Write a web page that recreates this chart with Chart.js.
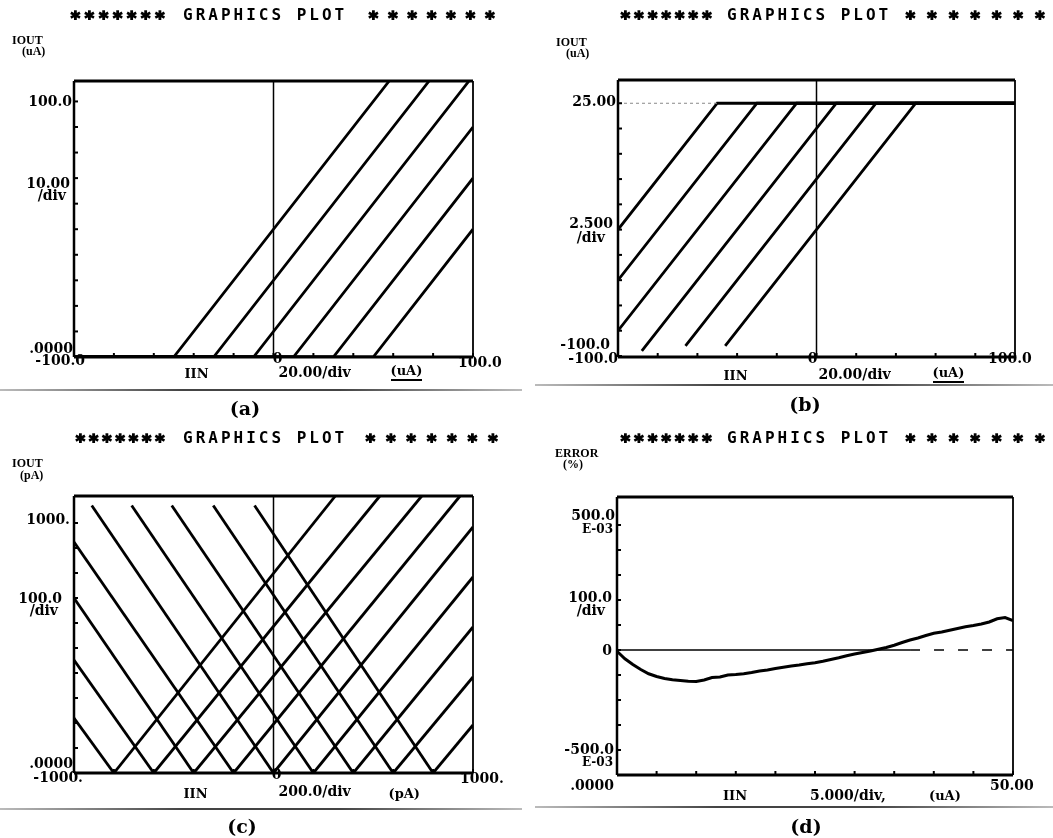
<!DOCTYPE html>
<html><head><meta charset="utf-8">
<script src="https://cdn.jsdelivr.net/npm/chart.js@4.4.1/dist/chart.umd.min.js"></script>
<style>
html,body{margin:0;padding:0;background:#fff;}
#wrap{position:relative;width:1053px;height:838px;overflow:hidden;background:#fff;}
canvas{position:absolute;left:0;top:0;pointer-events:none;}
.lab{position:absolute;line-height:1;white-space:nowrap;color:#000;font:bold 14px "DejaVu Serif",serif;}
.sm{font-size:13px;}
.xs{font-size:12px;}
.ul{border-bottom:2px solid #000;padding-bottom:1px;}
.title{position:absolute;white-space:nowrap;font:bold 16px "DejaVu Sans Mono",monospace;letter-spacing:3px;line-height:1;transform:translateY(-50%);}
.stars{position:absolute;white-space:nowrap;font:bold 18px "DejaVu Sans Mono",monospace;line-height:1;transform:translateY(-32%);-webkit-text-stroke:1.3px #000;}
.ax{position:absolute;white-space:nowrap;font:bold 12px "Liberation Serif",serif;line-height:1;transform:translateY(-50%);}
.pl{position:absolute;white-space:nowrap;font:bold 19px "DejaVu Serif",serif;line-height:1;transform:translate(-50%,-50%);}
.rule{position:absolute;height:2px;background:linear-gradient(to right,#bbb,#444 35%,#444 65%,#bbb);}
</style></head>
<body><div id="wrap">
<canvas id="ca" width="1053" height="838"></canvas>
<canvas id="cb" width="1053" height="838"></canvas>
<canvas id="cc" width="1053" height="838"></canvas>
<canvas id="cd" width="1053" height="838"></canvas>
</div>
<script>
// ---------------- Panel (a): IOUT vs IIN, uA ----------------
const aXRange = [-100, 100];
const aYRange = [0, 108];
const aXTickVals = [-100,-80,-60,-40,-20,0,20,40,60,80,100];
const aYTickVals = [0,10,20,30,40,50,60,70,80,90,100];
const aXLabelVals = [-100, 0, 100];
const aXLabelText = ['-100.0', '0', '100.0'];
const aYLabelVals = [0, 100];
const aYLabelText = ['.0000', '100.0'];
const aYDiv = ['10.00', '/div'];
const aXDiv = '20.00/div';
const aXName = 'IIN', aXUnit = '(uA)', aYName = 'IOUT', aYUnit = '(uA)';
const aLinesX = [[-100,-50,58],[-100,-30,78],[-100,-10,98],[-100,10,100],[-100,30,100],[-100,50,100]];
const aLinesY = [[0,0,108],[0,0,108],[0,0,108],[0,0,90],[0,0,70],[0,0,50]];

// ---------------- Panel (b): IOUT vs IIN, uA ----------------
const bXRange = [-100, 100];
const bYRange = [-0.1, 27.3];
const bXTickVals = [-100,-80,-60,-40,-20,0,20,40,60,80,100];
const bYTickVals = [0,2.5,5,7.5,10,12.5,15,17.5,20,22.5,25];
const bXLabelVals = [-100, 0, 100];
const bXLabelText = ['-100.0', '0', '100.0'];
const bYLabelVals = [-0.1, 25];
const bYLabelText = ['-100.0', '25.00'];
const bYDiv = ['2.500', '/div'];
const bXDiv = '20.00/div';
const bXName = 'IIN', bXUnit = '(uA)', bYName = 'IOUT', bYUnit = '(uA)';
const bLinesX = [[-100,-50,100],[-100,-30,100],[-100,-10,100],[-88,10,100],[-66,30,100],[-46,50,100]];
const bLinesY = [[12.5,25,25],[7.5,25,25],[2.5,25,25],[0.5,25,25],[1,25,25],[1,25,25]];
const bRefX = [-100, -50], bRefY = [25, 25];

// ---------------- Panel (c): IOUT vs IIN, pA ----------------
const cXRange = [-1000, 1000];
const cYRange = [0, 1108];
const cXTickVals = [-1000,-800,-600,-400,-200,0,200,400,600,800,1000];
const cYTickVals = [0,100,200,300,400,500,600,700,800,900,1000];
const cXLabelVals = [-1000, 0, 1000];
const cXLabelText = ['-1000.', '0', '1000.'];
const cYLabelVals = [0, 1000];
const cYLabelText = ['.0000', '1000.'];
const cYDiv = ['100.0', '/div'];
const cXDiv = '200.0/div';
const cXName = 'IIN', cXUnit = '(pA)', cYName = 'IOUT', cYUnit = '(pA)';
const cRiseX = [[-800,310],[-600,533],[-400,743],[-200,935],[0,1000],[200,1000],[400,1000],[600,1000],[800,1000]];
const cRiseY = [[0,1108],[0,1108],[0,1108],[0,1108],[0,984],[0,784],[0,584],[0,384],[0,192]];
const cFallX = [[-95,800],[-302,600],[-510,400],[-711,200],[-911,0],[-1000,-200],[-1000,-400],[-1000,-600],[-1000,-800]];
const cFallY = [[1070,0],[1070,0],[1070,0],[1070,0],[1070,0],[924,0],[700,0],[452,0],[220,0]];

// ---------------- Panel (d): ERROR (%) vs IIN, uA ----------------
const dXRange = [0, 50];
const dYRange = [-500, 612];
const dXTickVals = [0,5,10,15,20,25,30,35,40,45,50];
const dYTickVals = [-500,-400,-300,-200,-100,0,100,200,300,400,500];
const dXLabelVals = [0, 50];
const dXLabelText = ['.0000', '50.00'];
const dYLabelVals = [-500, 0, 500];
const dYLabelText = ['-500.0', '0', '500.0'];
const dYExp = 'E-03';
const dYDiv = ['100.0', '/div'];
const dXDiv = '5.000/div,';
const dXName = 'IIN', dXUnit = '(uA)', dYName = 'ERROR', dYUnit = '(%)';
const dIIN = [0,1,2,3,4,5,6,7,8,9,10,11,12,13,14,15,16,17,18,19,20,21,22,23,24,25,26,27,28,29,30,31,32,33,34,35,36,37,38,39,40,41,42,43,44,45,46,47,48,49,50];
const dERR = [-5,-35,-58,-78,-95,-106,-114,-119,-122,-125,-126,-120,-110,-108,-100,-98,-95,-90,-84,-80,-74,-69,-64,-60,-55,-51,-45,-38,-31,-23,-16,-10,-4,3,10,19,30,40,48,58,67,72,79,86,93,98,104,112,125,130,118];
const dZeroX = [0, 37], dZeroY = [0, 0];
const dZeroDashX = [37, 50], dZeroDashY = [0, 0];

const panelTitle = ['*******', 'GRAPHICS PLOT', '*******'];
const panelLetters = ['(a)', '(b)', '(c)', '(d)'];

// ---------------- helpers ----------------
const wrap = document.getElementById('wrap');
const pts = (xs, ys) => xs.map((x, i) => ({x, y: ys[i]}));
const ds = (xs, ys, extra) => Object.assign({data: pts(xs, ys), showLine: true, borderColor: '#000', borderWidth: 2.8, pointRadius: 0, fill: false}, extra || {});

const frame = {
  id: 'frame',
  afterDatasetsDraw(chart, args, o) {
    const {ctx, chartArea: a, scales: {x, y}} = chart;
    const ln = (x1, y1, x2, y2, w) => { ctx.lineWidth = w; ctx.beginPath(); ctx.moveTo(x1, y1); ctx.lineTo(x2, y2); ctx.stroke(); };
    ctx.save();
    ctx.strokeStyle = '#000';
    ln(a.left, a.top, a.right, a.top, 3);
    ln(a.left, a.bottom, a.right, a.bottom, 3);
    ln(a.left, a.top, a.left, a.bottom, 2.5);
    ln(a.right, a.top, a.right, a.bottom, 1.8);
    if (o.center) { const cx = x.getPixelForValue(0); ln(cx, a.top, cx, a.bottom, 1.5); }
    for (const v of o.yTicks) { const py = y.getPixelForValue(v); ln(a.left, py, a.left + 4, py, 2); }
    for (const v of o.xTicks) { const px = x.getPixelForValue(v); ln(px, a.bottom, px, a.bottom - 4, 2); }
    ctx.restore();
  }
};

function makeChart(id, pad, xr, yr, datasets, xTicks, yTicks, center) {
  return new Chart(document.getElementById(id), {
    type: 'scatter',
    data: {datasets},
    options: {
      responsive: false, animation: false, devicePixelRatio: 1,
      layout: {padding: pad},
      plugins: {legend: {display: false}, tooltip: {enabled: false}, frame: {xTicks, yTicks, center}},
      scales: {
        x: {type: 'linear', min: xr[0], max: xr[1], display: false},
        y: {type: 'linear', min: yr[0], max: yr[1], display: false}
      },
      elements: {line: {tension: 0}, point: {radius: 0}}
    },
    plugins: [frame]
  });
}

function place(chart, items) {
  const {chartArea: a, scales: {x, y}} = chart;
  for (const it of items) {
    const px = (it.xv == null ? a.left : x.getPixelForValue(it.xv)) + it.dx;
    const py = (it.yv == null ? a.bottom : y.getPixelForValue(it.yv)) + it.dy;
    const d = document.createElement('div');
    d.className = 'lab ' + (it.c || '');
    d.textContent = it.t;
    const tx = it.al === 'right' ? '-100%' : it.al === 'center' ? '-50%' : '0';
    d.style.left = px + 'px'; d.style.top = py + 'px';
    d.style.transform = 'translate(' + tx + ',-50%)';
    wrap.appendChild(d);
  }
}
function txt(cls, t, l, tp) {
  const d = document.createElement('div'); d.className = cls; d.textContent = t;
  d.style.left = l + 'px'; d.style.top = tp + 'px'; wrap.appendChild(d); return d;
}
function title(y, l1, l2, l3, w1, w3) {
  const s1 = txt('stars', panelTitle[0], l1, y); s1.style.letterSpacing = ((w1 - 7 * 10.8) / 6) + 'px';
  txt('title', panelTitle[1], l2, y);
  const s3 = txt('stars', panelTitle[2], l3, y); s3.style.letterSpacing = ((w3 - 7 * 10.8) / 6) + 'px';
}

// ---------------- build charts ----------------
const chA = makeChart('ca', {left: 74, top: 81, right: 580, bottom: 481}, aXRange, aYRange,
  aLinesX.map((xs, i) => ds(xs, aLinesY[i])), aXTickVals, aYTickVals, true);
const chB = makeChart('cb', {left: 618, top: 80, right: 38, bottom: 481}, bXRange, bYRange,
  [ds(bRefX, bRefY, {borderWidth: 1, borderColor: '#888', borderDash: [3, 3]})].concat(bLinesX.map((xs, i) => ds(xs, bLinesY[i]))), bXTickVals, bYTickVals, true);
const chC = makeChart('cc', {left: 74, top: 496, right: 580, bottom: 65}, cXRange, cYRange,
  cRiseX.map((xs, i) => ds(xs, cRiseY[i])).concat(cFallX.map((xs, i) => ds(xs, cFallY[i]))), cXTickVals, cYTickVals, true);
const chD = makeChart('cd', {left: 617, top: 497, right: 40, bottom: 63}, dXRange, dYRange,
  [ds(dZeroX, dZeroY, {borderWidth: 1.5}), ds(dZeroDashX, dZeroDashY, {borderWidth: 1.5, borderDash: [10, 14]}), ds(dIIN, dERR, {borderWidth: 3})],
  dXTickVals, dYTickVals, false);

// ---------------- labels ----------------
place(chA, [
  {t: aYLabelText[1], yv: aYLabelVals[1], dx: -2, dy: 0, al: 'right'},
  {t: aYDiv[0], yv: 70, dx: -4, dy: 5, al: 'right'},
  {t: aYDiv[1], yv: 70, dx: -8, dy: 17, al: 'right'},
  {t: aYLabelText[0], yv: aYLabelVals[0], dx: -1, dy: -9, al: 'right'},
  {t: aXLabelText[0], xv: aXLabelVals[0], dx: 11, dy: 3, al: 'right'},
  {t: aXLabelText[1], xv: aXLabelVals[1], dx: 4, dy: 1, al: 'center'},
  {t: aXLabelText[2], xv: aXLabelVals[2], dx: -15, dy: 5, al: 'left'},
  {t: aXName, xv: 0, dx: -89, dy: 16, al: 'left', c: 'sm'},
  {t: aXDiv, xv: 0, dx: 5, dy: 15, al: 'left'},
  {t: aXUnit, xv: 0, dx: 117, dy: 15, al: 'left', c: 'sm ul'}
]);
place(chB, [
  {t: bYLabelText[1], yv: bYLabelVals[1], dx: -2, dy: -2, al: 'right'},
  {t: bYDiv[0], yv: 12.5, dx: -5, dy: -7, al: 'right'},
  {t: bYDiv[1], yv: 12.5, dx: -13, dy: 7, al: 'right'},
  {t: bYLabelText[0], yv: bYLabelVals[0], dx: -8, dy: -13, al: 'right'},
  {t: bXLabelText[0], xv: bXLabelVals[0], dx: 0, dy: 1, al: 'right'},
  {t: bXLabelText[1], xv: bXLabelVals[1], dx: -4, dy: 1, al: 'center'},
  {t: bXLabelText[2], xv: bXLabelVals[2], dx: -27, dy: 1, al: 'left'},
  {t: bXName, xv: 0, dx: -93, dy: 18, al: 'left', c: 'sm'},
  {t: bXDiv, xv: 0, dx: 2, dy: 17, al: 'left'},
  {t: bXUnit, xv: 0, dx: 116, dy: 17, al: 'left', c: 'sm ul'}
]);
place(chC, [
  {t: cYLabelText[1], yv: cYLabelVals[1], dx: -4, dy: -4, al: 'right'},
  {t: cYDiv[0], yv: 700, dx: -12, dy: 0, al: 'right'},
  {t: cYDiv[1], yv: 700, dx: -16, dy: 12, al: 'right'},
  {t: cYLabelText[0], yv: cYLabelVals[0], dx: -1, dy: -10, al: 'right'},
  {t: cXLabelText[0], xv: cXLabelVals[0], dx: 9, dy: 4, al: 'right'},
  {t: cXLabelText[1], xv: cXLabelVals[1], dx: 3, dy: 1, al: 'center'},
  {t: cXLabelText[2], xv: cXLabelVals[2], dx: -13, dy: 5, al: 'left'},
  {t: cXName, xv: 0, dx: -90, dy: 20, al: 'left', c: 'sm'},
  {t: cXDiv, xv: 0, dx: 5, dy: 18, al: 'left'},
  {t: cXUnit, xv: 0, dx: 115, dy: 20, al: 'left', c: 'sm'}
]);
place(chD, [
  {t: dYLabelText[2], yv: dYLabelVals[2], dx: -2, dy: -10, al: 'right'},
  {t: dYExp, yv: dYLabelVals[2], dx: -4, dy: 4, al: 'right', c: 'xs'},
  {t: dYDiv[0], yv: 200, dx: -5, dy: -3, al: 'right'},
  {t: dYDiv[1], yv: 200, dx: -12, dy: 10, al: 'right'},
  {t: dYLabelText[1], yv: dYLabelVals[1], dx: -5, dy: 0, al: 'right'},
  {t: dYLabelText[0], yv: dYLabelVals[0], dx: -3, dy: -26, al: 'right'},
  {t: dYExp, yv: dYLabelVals[0], dx: -4, dy: -13, al: 'right', c: 'xs'},
  {t: dXLabelText[0], xv: dXLabelVals[0], dx: -3, dy: 10, al: 'right'},
  {t: dXLabelText[1], xv: dXLabelVals[1], dx: -23, dy: 10, al: 'left'},
  {t: dXName, xv: 0, dx: 106, dy: 20, al: 'left', c: 'sm'},
  {t: dXDiv, xv: 0, dx: 193, dy: 20, al: 'left'},
  {t: dXUnit, xv: 0, dx: 312, dy: 20, al: 'left', c: 'sm'}
]);

// axis names
txt('ax', aYName, 12, 40); txt('ax', aYUnit, 22, 51);
txt('ax', bYName, 556, 42); txt('ax', bYUnit, 566, 53);
txt('ax', cYName, 12, 463); txt('ax', cYUnit, 20, 475);
txt('ax', dYName, 555, 453); txt('ax', dYUnit, 563, 464);

// titles
title(15, 70, 183, 368, 95, 127);
title(15, 620, 727, 905, 92, 140);
title(438, 75, 183, 365, 90, 133);
title(438, 620, 727, 905, 92, 140);

// separators and panel letters
[[0, 389, 522], [535, 384, 518], [0, 808, 522], [535, 806, 518]].forEach(r => {
  const d = document.createElement('div'); d.className = 'rule';
  d.style.left = r[0] + 'px'; d.style.top = r[1] + 'px'; d.style.width = r[2] + 'px'; wrap.appendChild(d);
});
txt('pl', panelLetters[0], 245, 408);
txt('pl', panelLetters[1], 805, 404);
txt('pl', panelLetters[2], 242, 826);
txt('pl', panelLetters[3], 806, 826);
</script>
</body></html>
